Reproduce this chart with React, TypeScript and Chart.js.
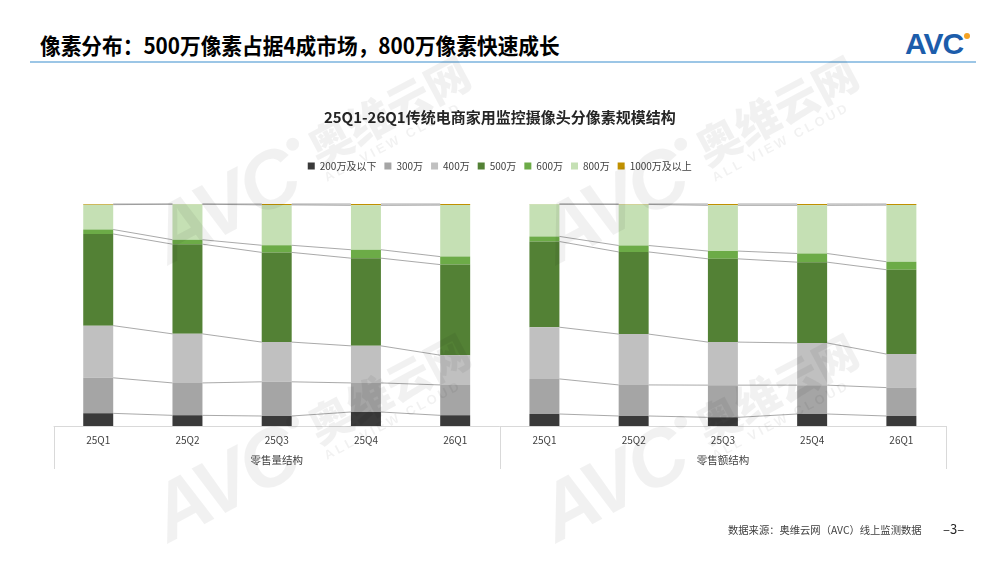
import { useEffect, useRef } from "react";
import { Chart, registerables } from "chart.js";

Chart.register(...registerables);

const FONT = '"Noto Sans CJK SC", "Noto Sans", sans-serif';

const quarters = ["25Q1", "25Q2", "25Q3", "25Q4", "26Q1"];
const groupNames = ["零售量结构", "零售额结构"];
const seriesNames = ["200万及以下", "300万", "400万", "500万", "600万", "800万", "1000万及以上"];
const seriesColors = ["#3a3a3a", "#a5a5a5", "#c0c0c0", "#538135", "#6cab47", "#c5e0b4", "#c09000"];

// 零售量结构 (%), one row per series, columns follow quarters
const volumeShare = [
  [5.7, 4.8, 4.5, 6.3, 4.8],
  [16.0, 14.6, 15.4, 13.1, 13.7],
  [23.5, 22.1, 17.9, 16.7, 13.4],
  [41.3, 40.4, 40.4, 39.5, 40.8],
  [2.0, 2.0, 3.2, 3.8, 3.6],
  [11.2, 16.0, 18.2, 20.0, 23.2],
  [0.3, 0.1, 0.4, 0.6, 0.5],
];

// 零售额结构 (%)
const amountShare = [
  [5.4, 4.5, 3.9, 5.4, 4.5],
  [15.8, 14.0, 14.5, 13.0, 12.8],
  [23.3, 22.9, 19.4, 19.0, 15.1],
  [38.6, 37.0, 37.5, 36.4, 38.0],
  [2.3, 2.9, 3.5, 3.9, 3.6],
  [14.5, 18.5, 20.6, 21.7, 25.5],
  [0.1, 0.2, 0.6, 0.6, 0.5],
];

// thin connector lines between neighbouring bars (like Excel series lines)
const seriesLines = {
  id: "seriesLines",
  afterDatasetsDraw(chart: any) {
    const ctx = chart.ctx;
    ctx.save();
    ctx.strokeStyle = "#8c8c8c";
    ctx.lineWidth = 0.75;
    chart.data.datasets.forEach((_: any, di: number) => {
      const meta = chart.getDatasetMeta(di);
      for (let j = 0; j < meta.data.length - 1; j++) {
        if ((j + 1) % quarters.length === 0) continue; // no line across groups
        const a = meta.data[j];
        const b = meta.data[j + 1];
        ctx.beginPath();
        ctx.moveTo(a.x + a.width / 2, a.y);
        ctx.lineTo(b.x - b.width / 2, b.y);
        ctx.stroke();
      }
    });
    ctx.restore();
  },
};

// multi-level category axis: frame lines + group names
const axisFrame = {
  id: "axisFrame",
  afterDraw(chart: any) {
    const ctx = chart.ctx;
    const x = chart.scales.x;
    const bottom = chart.chartArea.bottom;
    const mid = (x.getPixelForValue(quarters.length - 1) + x.getPixelForValue(quarters.length)) / 2;
    ctx.save();
    ctx.strokeStyle = "#d9d9d9";
    ctx.lineWidth = 1;
    ctx.beginPath();
    ctx.moveTo(x.left, bottom + 0.5);
    ctx.lineTo(x.right, bottom + 0.5);
    [x.left, mid, x.right].forEach((px) => {
      ctx.moveTo(Math.round(px) + 0.5, bottom);
      ctx.lineTo(Math.round(px) + 0.5, bottom + 43);
    });
    ctx.stroke();

    ctx.fillStyle = "#404040";
    ctx.font = `10.5px ${FONT}`;
    ctx.textAlign = "center";
    ctx.textBaseline = "middle";
    ctx.fillText(groupNames[0], (x.left + mid) / 2, bottom + 34);
    ctx.fillText(groupNames[1], (mid + x.right) / 2, bottom + 34);
    ctx.restore();
  },
};

// extra room between legend and plot
const legendGap = {
  id: "legendGap",
  beforeInit(chart: any) {
    const fit = chart.legend.fit;
    chart.legend.fit = function () {
      fit.bind(chart.legend)();
      this.height += 23;
    };
  },
};

const Watermark = ({ left, top }: { left: number; top: number }) => (
  <div
    style={{
      position: "absolute",
      left,
      top,
      transform: "rotate(-28deg)",
      transformOrigin: "center",
      display: "flex",
      alignItems: "center",
      color: "rgba(0,0,0,0.055)",
      fontFamily: FONT,
      pointerEvents: "none",
      whiteSpace: "nowrap",
    }}
  >
    <span style={{ fontSize: 80, fontWeight: 900, fontStyle: "italic", fontFamily: "Liberation Sans", letterSpacing: -3 }}>AVC</span>
    <span style={{ display: "inline-block", width: 13, height: 13, borderRadius: 7, background: "rgba(0,0,0,0.05)", margin: "0 6px", alignSelf: "flex-start", marginTop: 18 }} />
    <div style={{ display: "flex", flexDirection: "column", alignItems: "flex-start" }}>
      <span style={{ fontSize: 44, fontWeight: 900, lineHeight: 1 }}>奥维云网</span>
      <span style={{ fontSize: 13, fontWeight: 700, letterSpacing: 3, fontFamily: "Liberation Sans", marginTop: 2 }}>ALL VIEW CLOUD</span>
    </div>
  </div>
);

const App = () => {
  const canvasRef = useRef<HTMLCanvasElement | null>(null);
  const chartRef = useRef<Chart | null>(null);

  useEffect(() => {
    if (!canvasRef.current) return;
    Chart.defaults.font.family = FONT;

    chartRef.current = new Chart(canvasRef.current, {
      type: "bar",
      data: {
        labels: [...quarters, ...quarters],
        datasets: seriesNames.map((name, i) => ({
          label: name,
          data: [...volumeShare[i], ...amountShare[i]],
          backgroundColor: seriesColors[i],
          borderWidth: 0,
          categoryPercentage: 1,
          barPercentage: 0.336,
        })),
      },
      options: {
        responsive: false,
        animation: false,
        layout: { padding: { top: 100, left: 53.6, right: 54, bottom: 92 } },
        scales: {
          x: {
            stacked: true,
            grid: { display: false, drawTicks: false },
            border: { display: false },
            ticks: { font: { size: 10 }, color: "#404040", padding: 8, maxRotation: 0, autoSkip: false },
            afterFit: (scale: any) => {
              scale.height = 44; // room for the group row
            },
          },
          y: { stacked: true, min: 0, max: 100, display: false },
        },
        plugins: {
          title: {
            display: true,
            text: "25Q1-26Q1传统电商家用监控摄像头分像素规模结构",
            font: { size: 15, weight: "bold" },
            color: "#262626",
            padding: { top: 8, bottom: 27 },
          },
          legend: {
            display: true,
            labels: { boxWidth: 7, boxHeight: 7, font: { size: 10 }, color: "#404040", padding: 8 },
          },
          tooltip: { enabled: false },
        },
      },
      plugins: [legendGap, seriesLines, axisFrame],
    });

    return () => {
      if (chartRef.current) {
        chartRef.current.destroy();
        chartRef.current = null;
      }
    };
  }, []);

  return (
    <div style={{ position: "fixed", left: 0, top: 0, width: 1000, height: 562, background: "#fff", overflow: "hidden", fontFamily: FONT }}>
      <div style={{ position: "absolute", left: 40, top: 29, fontSize: 22, fontWeight: 700, color: "#000", lineHeight: "30px", transform: "scaleX(0.94)", transformOrigin: "left center", whiteSpace: "nowrap" }}>
        像素分布：500万像素占据4成市场，800万像素快速成长
      </div>
      <div style={{ position: "absolute", left: 30, top: 61, width: 946, height: 2, background: "#9cc6e6" }} />
      <div style={{ position: "absolute", left: 905, top: 27, fontFamily: "Liberation Sans", fontSize: 30, fontWeight: 700, color: "#1c5dab", lineHeight: "34px", letterSpacing: -1 }}>
        AVC
      </div>
      <div style={{ position: "absolute", left: 964, top: 33, width: 6, height: 6, borderRadius: 3, background: "#f5a324" }} />
      <canvas ref={canvasRef} width={1000} height={562} style={{ position: "absolute", left: 0, top: 0 }} />
      <Watermark left={135} top={112} />
      <Watermark left={523} top={112} />
      <Watermark left={135} top={390} />
      <Watermark left={523} top={390} />
      <div style={{ position: "absolute", left: 728, top: 522, fontSize: 10.3, color: "#404040", whiteSpace: "nowrap" }}>
        数据来源：奥维云网（AVC）线上监测数据
      </div>
      <div style={{ position: "absolute", left: 943, top: 519, fontSize: 13, color: "#262626" }}>–3–</div>
    </div>
  );
};

export default App;
